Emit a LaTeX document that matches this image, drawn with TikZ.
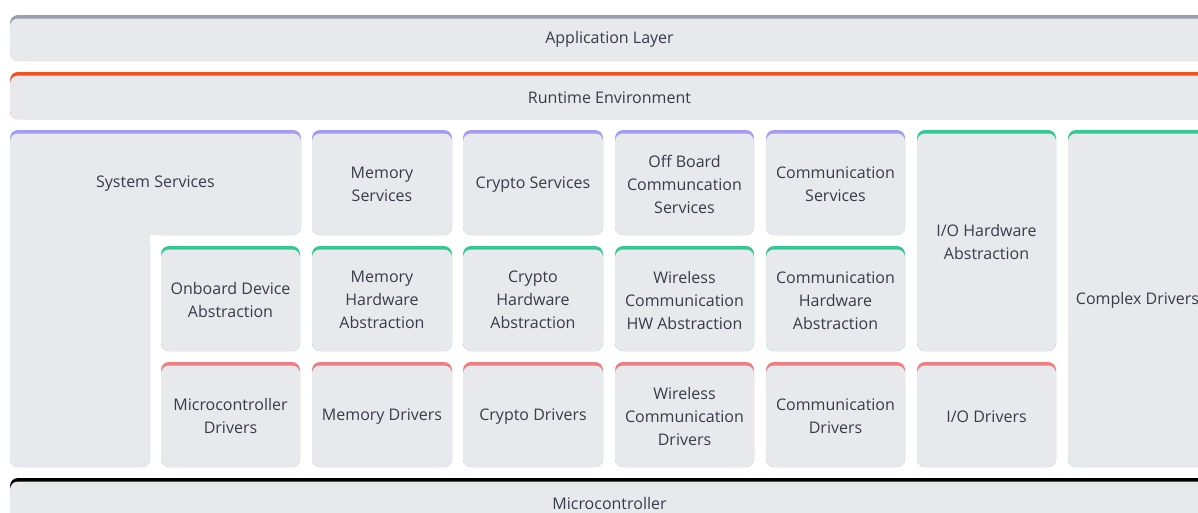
\documentclass[tikz,border=0pt]{standalone}
\usepackage{fontspec}
\setmainfont{Open Sans}
\definecolor{boxfill}{HTML}{E8E9ED}
\definecolor{txt}{HTML}{363C48}
\definecolor{bargray}{HTML}{9AA0AA}
\definecolor{barorange}{HTML}{F4511E}
\definecolor{barpurple}{HTML}{A29CF2}
\definecolor{bargreen}{HTML}{34C893}
\definecolor{barred}{HTML}{F07D80}
\definecolor{barblack}{HTML}{000000}
\tikzset{
  lbl/.style={align=center, text=txt, font=\fontsize{16}{23}\selectfont, inner sep=0pt},
  boxshape/.style={fill=boxfill, rounded corners=8pt},
}
\newcommand{\lbox}[7]{%
  \fill[#6, rounded corners=8pt] (#2,#3) rectangle (#4,#5);
  \fill[boxshape] (#2,#3+3.5) rectangle (#4,#5);
  \node[lbl] (#1) at ({(#2+#4)/2},{(#3+3.5+#5)/2}) {#7};
}
\begin{document}
\begin{tikzpicture}[x=1pt,y=-1pt]
\useasboundingbox (0,0) rectangle (1198,512);
\clip (0,0) rectangle (1198,512);
\fill[white] (0,0) rectangle (1198,512);
% full-width layers
\lbox{app}{10}{15}{1209}{61}{bargray}{Application Layer}
\lbox{rte}{10}{72}{1209}{119}{barorange}{Runtime Environment}
% system services (L shape)
\fill[barpurple, rounded corners=8pt] (10,130) -- (301,130) -- (301,235) -- (150,235) -- (150,467) -- (10,467) -- cycle;
\fill[boxshape] (10,133.5) -- (301,133.5) -- (301,235) -- (150,235) -- (150,467) -- (10,467) -- cycle;
\fill[white] (150,235) rectangle (159,244);
\node[lbl] (sys) at (155.5,184) {System Services};
% row 1 services
\lbox{memsrv}{312}{130}{452}{235}{barpurple}{Memory\\Services}
\lbox{cryptosrv}{463}{130}{603}{235}{barpurple}{Crypto Services}
\lbox{offsrv}{615}{130}{754}{235}{barpurple}{Off Board\\Communcation\\Services}
\lbox{comsrv}{766}{130}{905}{235}{barpurple}{Communication\\Services}
\lbox{iohw}{917}{130}{1056}{351}{bargreen}{I/O Hardware\\Abstraction}
\lbox{cdrv}{1068}{130}{1207}{467}{bargreen}{Complex Drivers}
% row 2 abstraction
\lbox{onb}{161}{246}{300}{351}{bargreen}{Onboard Device\\Abstraction}
\lbox{memhw}{312}{246}{452}{351}{bargreen}{Memory\\Hardware\\Abstraction}
\lbox{cryptohw}{463}{246}{603}{351}{bargreen}{Crypto\\Hardware\\Abstraction}
\lbox{wlhw}{615}{246}{754}{351}{bargreen}{Wireless\\Communication\\HW Abstraction}
\lbox{comhw}{766}{246}{905}{351}{bargreen}{Communication\\Hardware\\Abstraction}
% row 3 drivers
\lbox{mcudrv}{161}{362}{300}{467}{barred}{Microcontroller\\Drivers}
\lbox{memdrv}{312}{362}{452}{467}{barred}{Memory Drivers}
\lbox{cryptodrv}{463}{362}{603}{467}{barred}{Crypto Drivers}
\lbox{wldrv}{615}{362}{754}{467}{barred}{Wireless\\Communication\\Drivers}
\lbox{comdrv}{766}{362}{905}{467}{barred}{Communication\\Drivers}
\lbox{iodrv}{917}{362}{1056}{467}{barred}{I/O Drivers}
% microcontroller
\lbox{mcu}{10}{478}{1209}{525}{barblack}{Microcontroller}
\end{tikzpicture}
\end{document}
